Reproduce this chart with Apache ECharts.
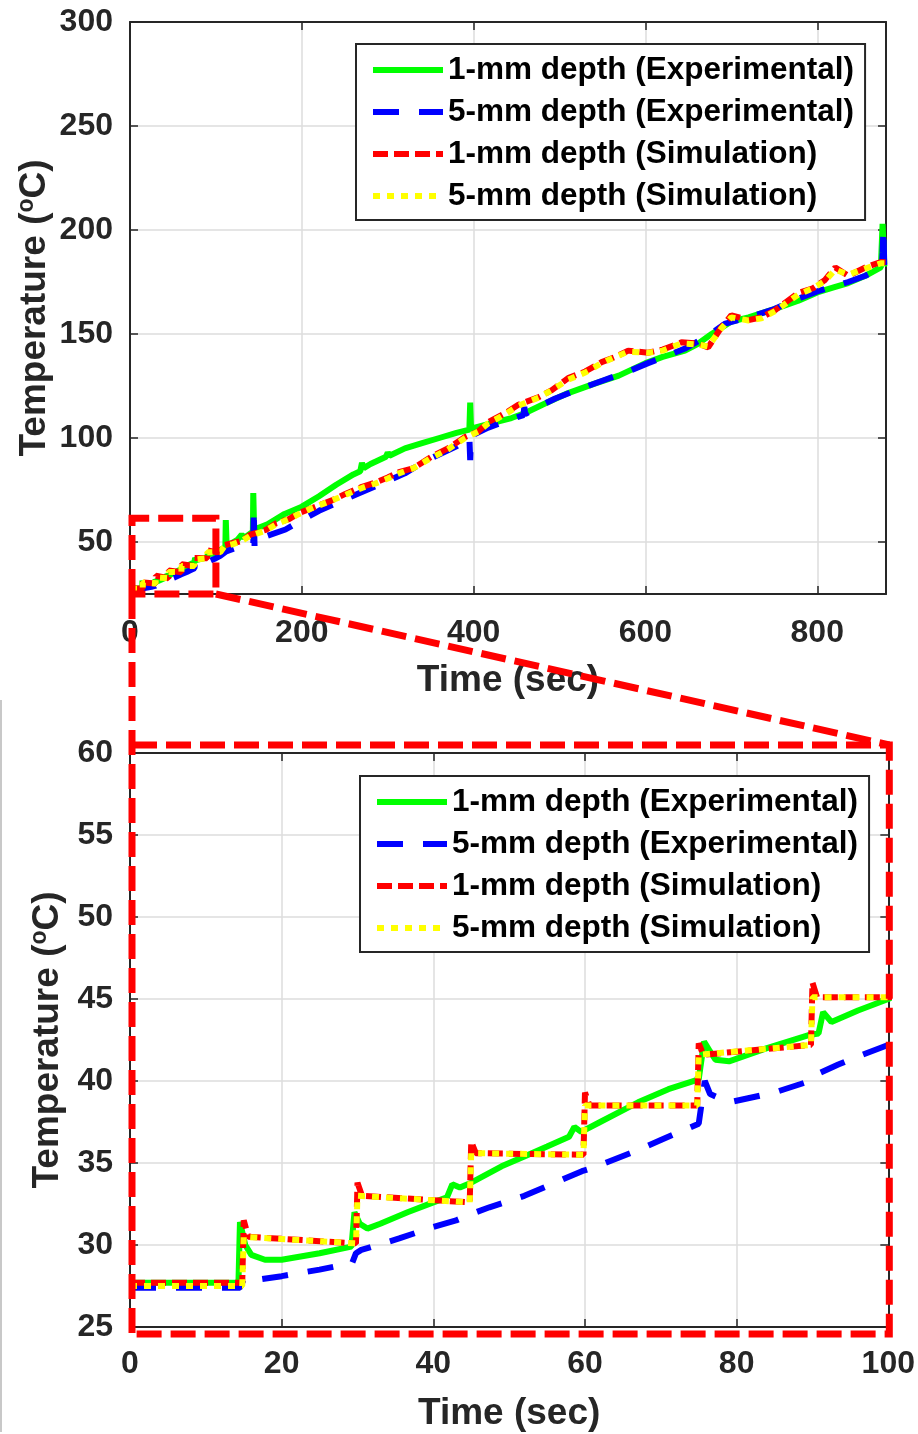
<!DOCTYPE html>
<html><head><meta charset="utf-8">
<script src="https://cdn.jsdelivr.net/npm/echarts@6/dist/echarts.min.js"></script>
<style>html,body{margin:0;padding:0;background:#fff}#c{width:918px;height:1434px}</style>
</head><body><div id="c"></div>
<script>
// ---------------- data (time s, temperature °C) ----------------
const seriesNames = ['1-mm depth (Experimental)', '5-mm depth (Experimental)', '1-mm depth (Simulation)', '5-mm depth (Simulation)'];

const exp1mm = [[0,27.7],[14.3,27.7],[14.5,31.4],[15.2,30.0],[16,29.4],[17.8,29.1],[20,29.1],[25,29.5],[29.2,29.9],[29.6,32.0],[30.3,31.3],[31.3,31.0],[33,31.3],[36.6,32.0],[40,32.6],[41.8,32.9],[42.5,33.7],[43.5,33.5],[45,33.8],[49,34.8],[52,35.4],[55,36.0],[57.9,36.6],[58.6,37.2],[59.5,36.9],[62,37.5],[67,38.7],[71,39.5],[75,40.1],[75.7,42.4],[76.5,41.8],[77.2,41.3],[79,41.2],[84,42.0],[89.5,42.8],[90.8,42.9],[91.4,44.2],[92.5,43.6],[96,44.3],[100,45.0],
  [105,46.2],[111,47.4],[111.5,60.5],[112.5,48.0],[125,51],[130,53.5],[133,52],[143,55],[143.5,73.5],[144.5,56],[160,58.5],[180,63.5],[200,67],[220,72],[240,77.5],[260,82.5],[268,84],[270,88],[272,85.5],[280,87.5],[298,91],[300,93],[302,91.5],[320,95],[340,97.5],[360,100],[380,102.5],[395,104],[396,117],[397,104.5],[420,107],[444,109.6],[460,112],[480,116],[510,121.6],[540,126],[569,130],[600,136],[620,139],[646,142],[660,145],[677,150],[700,156],[720,158],[750,162],[778,166],[800,170],[820,172.5],[836,174.5],[856,178],[874,182],[876,203],[878,183.5],[880,184]];

const exp5mm = [[0,27.4],[14.5,27.4],[15.0,27.9],[15.5,28.0],[17,27.9],[20,28.1],[25,28.5],[29.3,28.9],[29.8,29.5],[30.5,29.7],[35.5,30.4],[40,31.1],[43,31.5],[44.5,31.8],[47.4,32.3],[52,33.0],[59.6,34.5],[61,34.7],[66,35.6],[70,36.4],[75,37.4],[75.8,40.0],[76.5,39.2],[79,38.7],[85,39.3],[89,39.9],[91,40.5],[93.4,41.0],[96,41.5],[100,42.2],
  [105,43.3],[112,45.5],[125,47.5],[140,49],[143.5,49.5],[144,66],[145,47.6],[146,50],[160,53],[181,56],[200,60.5],[220,65],[247,70],[270,74],[297,78.8],[320,83],[340,88],[351,90.4],[380,96],[395,100.5],[396,89.4],[397,101],[417,105],[440,108.5],[458,111],[459,115],[460,111.5],[480,116],[495,119],[520,123],[553,128],[580,132],[603,136],[625,139.5],[646,143],[670,148.5],[693,155],[720,158],[750,162],[778,167],[800,170.5],[836,175],[856,178],[875,182],[876,189],[877,201],[878,183],[880,184]];

const sim1mm = [[0,27.7],[14.8,27.7],[15.0,31.5],[15.6,30.5],[29.8,30.1],[30.0,33.8],[30.6,33.0],[44.8,32.6],[45.0,36.3],[45.6,35.6],[59.8,35.5],[60.0,39.3],[60.6,38.5],[74.8,38.5],[75.0,42.3],[75.6,41.6],[89.8,42.2],[90.0,46.0],[90.6,45.1],[100,45.1],
  [105,45.3],[110,48.5],[120,49.5],[130,50.5],[140,53.5],[158,55.8],[170,59],[185,61],[197,64],[210,66],[235,70],[250,73],[270,76.5],[285,78.5],[300,81],[313,83.6],[330,85.5],[351,91],[370,95],[390,100.5],[405,103],[417,107.6],[437,112],[452,116],[476,119.7],[491,123],[510,128.8],[530,132],[549,136.5],[565,139],[580,142],[603,141],[620,142.5],[642,146],[660,145.5],[673,143.6],[688,153],[700,159],[720,156.7],[735,158],[751,161.5],[778,169.7],[795,172],[809,176],[821,182],[836,178],[856,182],[874,184.6],[880,184.5]];

const sim5mm = [[0,27.5],[14.8,27.5],[15.0,30.5],[29.8,30.1],[30.0,33.0],[44.8,32.6],[45.0,35.6],[59.8,35.5],[60.0,38.5],[74.8,38.5],[75.0,41.6],[89.8,42.2],[90.0,45.1],[100,45.1],
  [105,45.1],[110,48],[120,49],[130,50.5],[140,53],[158,55.5],[170,58.5],[185,61],[197,63.5],[210,66],[235,70],[250,72.5],[270,76],[285,78],[300,80.5],[313,83],[330,85.5],[351,90.5],[370,94.5],[390,100],[405,103],[417,107],[437,111.5],[452,115.5],[476,119.5],[491,123],[510,128],[530,131.5],[549,136],[565,139],[580,141.5],[603,141],[620,142],[642,145.5],[660,145],[673,144],[688,152.5],[700,158],[720,156.5],[735,157.5],[751,161],[778,169],[795,172],[809,175.5],[821,181],[836,178.5],[856,181.5],[874,184],[880,184]];

// axis ranges
const topX = {min: 0, max: 880, interval: 200};
const topY = {min: 25, max: 300};
const botX = {min: 0, max: 100, interval: 20};
const botY = {min: 25, max: 60, interval: 5};
const zoomWindow = {t0: 0, t1: 100, v0: 25, v1: 60};

// ---------------- styling ----------------
const FONT = "'Liberation Sans', Arial, Helvetica, sans-serif";
const AX = '#262626';
const seriesStyles = [
  {color: '#00ff00', type: 'solid'},
  {color: '#0000ff', type: [26, 20]},
  {color: '#ff0000', type: [15, 6]},
  {color: '#ffff00', type: [7, 7]}
];
const dataSets = [exp1mm, exp5mm, sim1mm, sim5mm];

function xAxes(grid, r, pos, show, margin) {
  return {
    type: 'value', gridIndex: grid, position: pos, min: r.min, max: r.max, interval: r.interval,
    axisLine: {show: true, onZero: false, lineStyle: {color: AX, width: 2}},
    axisTick: {show: true, inside: true, length: 8, lineStyle: {color: AX, width: 1.5}},
    axisLabel: {show: show, margin: margin, color: AX, fontSize: 32, fontWeight: 'bold', fontFamily: FONT, showMaxLabel: r.max === 100},
    splitLine: {show: show, lineStyle: {color: '#dcdcdc', width: 1.5}},
    name: show ? 'Time (sec)' : '', nameLocation: 'middle', nameGap: 68, nameMoveOverlap: false,
    nameTextStyle: {color: AX, fontSize: 37, fontWeight: 'bold', fontFamily: FONT}
  };
}
function yAxes(grid, r, pos, show, gap, showMin) {
  const o = {
    type: 'value', gridIndex: grid, position: pos, min: r.min, max: r.max,
    axisLine: {show: true, onZero: false, lineStyle: {color: AX, width: 2}},
    axisTick: {show: true, inside: true, length: 8, lineStyle: {color: AX, width: 1.5}},
    axisLabel: {show: show, margin: 17, color: AX, fontSize: 32, fontWeight: 'bold', fontFamily: FONT, showMinLabel: showMin},
    splitLine: {show: show, lineStyle: {color: '#dcdcdc', width: 1.5}},
    name: show ? '{a|Temperature (}{s|o}{a|C)}' : '', nameLocation: 'middle', nameGap: gap, nameMoveOverlap: false,
    nameTextStyle: {rich: {
      a: {color: AX, fontSize: 37, fontWeight: 'bold', fontFamily: FONT, lineHeight: 40},
      s: {color: AX, fontSize: 23, fontWeight: 'bold', fontFamily: FONT, verticalAlign: 'top', lineHeight: 22}
    }}
  };
  if (r.interval) o.interval = r.interval; else o.splitNumber = 5;
  return o;
}

const series = [];
[0, 1].forEach(g => {
  dataSets.forEach((d, i) => {
    series.push({
      type: 'line', name: seriesNames[i], data: d, xAxisIndex: g * 2, yAxisIndex: g * 2,
      showSymbol: false, symbol: 'none', clip: true, animation: false,
      lineStyle: {color: seriesStyles[i].color, width: 6, type: seriesStyles[i].type},
      itemStyle: {color: seriesStyles[i].color}, z: 2 + i
    });
  });
});

function legendAt(left, top) {
  return {
    data: seriesNames, orient: 'vertical', left: left, top: top,
    itemWidth: 70, itemHeight: 14, itemGap: 8, padding: [9, 11, 7, 14],
    backgroundColor: '#fff', borderColor: AX, borderWidth: 2, borderRadius: 0,
    itemStyle: {color: 'transparent', borderColor: 'transparent', borderWidth: 0, opacity: 0},
    lineStyle: {width: 6},
    textStyle: {color: '#000', fontSize: 31.5, fontWeight: 'bold', fontFamily: FONT, lineHeight: 34},
    selectedMode: false
  };
}

const chart = echarts.init(document.getElementById('c'), null, {renderer: 'canvas'});
chart.setOption({
  backgroundColor: '#fff',
  animation: false,
  grid: [
    {left: 130, top: 22, width: 756, height: 572},
    {left: 130, top: 753, width: 759, height: 574}
  ],
  xAxis: [xAxes(0, topX, 'bottom', true, 23), xAxes(0, topX, 'top', false, 0), xAxes(1, botX, 'bottom', true, 21), xAxes(1, botX, 'top', false, 0)],
  yAxis: [yAxes(0, topY, 'left', true, 75, false), yAxes(0, topY, 'right', false, 0, false), yAxes(1, botY, 'left', true, 62, true), yAxes(1, botY, 'right', false, 0, true)],
  legend: [legendAt(356, 44), legendAt(360, 776)],
  series: series
});

// zoom-window annotation drawn from the axes' scales
const px = (g, v) => chart.convertToPixel({xAxisIndex: g * 2, yAxisIndex: g * 2}, v);
const a = px(0, [zoomWindow.t0, zoomWindow.v1]);
const b = px(0, [zoomWindow.t1, zoomWindow.v0]);
const c = px(1, [zoomWindow.t0, zoomWindow.v1]);
const d = px(1, [zoomWindow.t1, zoomWindow.v0]);
const red = {stroke: '#ff0000', lineWidth: 7, lineDash: [25, 9], fill: null};
const lx = a[0] + 2;
const bx1 = c[0] + 2, by1 = c[1] - 8, bx2 = d[0] + 1, by2 = d[1] + 7;
chart.setOption({
  graphic: [
    {type: 'line', z: 50, shape: {x1: 1, y1: 700, x2: 1, y2: 1432}, style: {stroke: '#c8c8c8', lineWidth: 2}},
    {type: 'polyline', z: 100, shape: {points: [[lx, b[1]], [lx, a[1] - 3], [b[0], a[1] - 3], [b[0], b[1]], [lx, b[1]]]}, style: red},
    {type: 'line', z: 100, shape: {x1: lx, y1: b[1], x2: lx, y2: by2}, style: red},
    {type: 'line', z: 100, shape: {x1: b[0], y1: b[1], x2: bx2, y2: by1}, style: red},
    {type: 'polyline', z: 100, shape: {points: [[bx1, by1], [bx2, by1], [bx2, by2], [bx1, by2]]}, style: red}
  ]
});
</script>
</body></html>
